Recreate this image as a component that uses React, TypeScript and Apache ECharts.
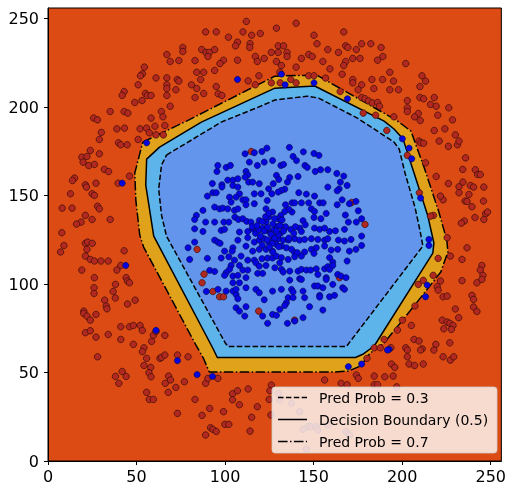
import { useEffect, useRef } from 'react';
import * as echarts from 'echarts';

const xTickValues = [0, 50, 100, 150, 200, 250];
const yTickValues = [0, 50, 100, 150, 200, 250];
const legendLabels = ['Pred Prob = 0.3', 'Decision Boundary (0.5)', 'Pred Prob = 0.7'];

// contour at predicted probability 0.7 (dash-dot, outermost)
const contour07: [number, number][] = [
  [53.5, 180.2], [78.2, 192.1], [128.1, 217.5], [151.7, 218.1], [196.6, 192.7], [205.0, 186.4],
  [212.9, 164.4], [220.7, 140.7], [225.2, 124.9], [225.8, 118.1], [221.8, 106.8], [206.7, 87.6],
  [189.8, 66.7], [182.0, 61.0], [176.4, 53.7], [169.6, 50.8], [161.8, 50.3], [91.1, 50.3],
  [87.7, 58.2], [83.8, 65.0], [54.0, 120.9], [51.8, 127.7], [49.6, 147.5], [49.0, 162.7],
];
// decision boundary 0.5 (solid)
const contour05: [number, number][] = [
  [63.0, 177.4], [86.6, 191.5], [128.1, 210.7], [150.6, 211.9], [189.8, 192.1], [195.4, 187.6],
  [200.5, 181.9], [206.7, 162.7], [214.5, 138.4], [217.9, 123.2], [217.3, 117.5], [184.2, 65.0],
  [178.1, 60.5], [173.6, 58.5], [95.6, 58.5], [93.3, 63.3], [59.7, 127.1], [55.2, 155.9], [55.7, 170.6],
];
// contour at 0.3 (dashed, innermost)
const contour03: [number, number][] = [
  [66.9, 172.9], [97.8, 191.5], [120.3, 200.6], [128.1, 204.0], [146.6, 206.2], [152.8, 205.1],
  [174.7, 193.8], [195.4, 180.2], [198.3, 176.3], [201.6, 162.7], [207.2, 143.5], [210.0, 130.5],
  [211.7, 121.5], [168.5, 64.7], [101.7, 64.7], [100.1, 66.7], [66.9, 127.1], [64.1, 139.0],
  [62.5, 153.7], [64.1, 167.2],
];

// class 0 (red) samples
const class0Points: [number, number][] = [
  [112.0, 248.4], [89.0, 242.5], [95.0, 242.5], [110.1, 242.5], [115.0, 240.6], [119.9, 241.6], [101.9, 239.5],
  [107.0, 236.7], [105.9, 234.6], [114.1, 235.9], [113.9, 233.7], [76.1, 233.7], [76.1, 231.4], [86.8, 232.5],
  [89.2, 230.9], [91.1, 230.9], [90.3, 228.6], [94.1, 232.5], [126.1, 230.9], [67.1, 229.7], [117.1, 228.6],
  [122.1, 227.5], [69.0, 225.8], [73.9, 226.3], [83.0, 226.3], [99.1, 226.5], [97.1, 224.6], [107.0, 226.5],
  [118.2, 225.8], [54.4, 222.6], [53.3, 218.8], [52.2, 217.7], [61.0, 216.5], [67.1, 216.5], [73.0, 215.6],
  [73.9, 214.7], [84.0, 219.7], [87.9, 219.7], [94.1, 220.7], [86.2, 215.6], [119.1, 217.7], [113.0, 214.8],
  [117.1, 212.6], [126.1, 213.7], [50.9, 212.6], [67.1, 212.6], [67.1, 210.5], [72.2, 209.8], [81.0, 212.6],
  [84.0, 210.5], [95.0, 211.6], [43.0, 208.8], [41.9, 206.6], [55.0, 207.7], [56.1, 206.6], [58.2, 206.6],
  [67.1, 206.6], [83.0, 205.4], [87.9, 207.7], [96.1, 207.5], [98.2, 206.6], [49.0, 202.6], [53.1, 203.7],
  [69.0, 200.5], [35.1, 197.5], [43.0, 197.5], [45.1, 196.6], [64.0, 197.5], [25.8, 193.8], [27.9, 192.8],
  [58.2, 193.8], [64.9, 194.5],
  [140.1, 247.4], [129.0, 244.6], [150.2, 240.6], [167.0, 242.5], [130.0, 234.6], [133.0, 234.6], [151.9, 235.8],
  [168.1, 234.6], [169.3, 233.7], [177.1, 235.8], [182.3, 235.8], [158.0, 232.5], [164.0, 230.9], [174.1, 232.5],
  [188.1, 233.7], [130.0, 230.9], [135.0, 230.9], [135.0, 228.6], [147.2, 229.7], [149.2, 228.6], [143.1, 227.5],
  [172.1, 227.5], [176.2, 227.5], [168.1, 225.8], [155.2, 225.8], [186.1, 226.5], [189.1, 228.6], [129.0, 225.8],
  [131.8, 223.5], [140.1, 222.6], [167.0, 223.5], [159.2, 221.6], [202.0, 224.6], [193.0, 219.7], [211.2, 217.7],
  [213.2, 214.7], [166.1, 218.6], [172.1, 215.6], [172.1, 213.7], [177.1, 212.6], [182.9, 215.6], [188.9, 215.6],
  [195.1, 214.7], [184.0, 210.5], [193.0, 209.8], [197.9, 209.8], [210.0, 211.6], [175.1, 209.8], [165.0, 208.8],
  [177.1, 205.4], [179.0, 204.7], [181.0, 203.5], [183.1, 202.4], [186.1, 202.6], [187.2, 200.5], [202.9, 203.7],
  [210.0, 205.4], [212.1, 204.7], [218.1, 205.4], [216.0, 201.5], [219.2, 200.5], [226.3, 199.6], [202.9, 199.6],
  [202.9, 197.5], [209.1, 196.4], [207.0, 194.5], [220.1, 195.4], [195.3, 194.5], [185.0, 195.4], [178.0, 196.6],
  [210.2, 192.4], [228.4, 192.8], [131.1, 213.7], [137.1, 215.6], [140.1, 213.7], [147.2, 217.7], [150.2, 217.7],
  [156.7, 216.4], [130.9, 219.7],
  [218.1, 186.8], [224.1, 187.7], [230.0, 184.3], [209.5, 180.8], [210.6, 179.8], [212.1, 179.6], [220.9, 180.8],
  [226.1, 177.8], [231.2, 178.7], [232.1, 180.8], [213.2, 168.5], [235.8, 171.3], [234.2, 164.8], [241.3, 164.6],
  [242.6, 161.9], [244.1, 161.9], [246.1, 154.8], [219.2, 160.8], [226.1, 156.8], [232.1, 155.0], [234.3, 157.6],
  [238.5, 155.7], [240.3, 154.8], [232.1, 151.6], [237.7, 150.6], [235.5, 146.9], [236.6, 146.7], [239.4, 143.7],
  [245.9, 146.9], [247.1, 139.7], [248.2, 140.7], [241.1, 137.6], [246.1, 136.5], [235.1, 135.6], [233.4, 134.4],
  [209.7, 151.6], [223.1, 147.6], [221.6, 149.7], [217.7, 138.8], [216.0, 138.4], [202.9, 172.7], [191.3, 186.8],
  [171.5, 146.1], [179.0, 133.7],
  [38.9, 187.7], [43.2, 188.1], [52.0, 187.7], [55.7, 188.1], [60.4, 189.2], [66.0, 189.6], [30.1, 185.7],
  [29.0, 181.7], [39.8, 179.8], [41.1, 178.7], [44.7, 178.7], [50.9, 181.7], [57.2, 185.5], [61.0, 184.3],
  [65.1, 184.3], [23.9, 175.5], [29.0, 173.6], [19.1, 171.7], [22.0, 172.1], [19.8, 168.9], [23.0, 167.0],
  [26.2, 167.6], [31.8, 164.8], [34.2, 163.6], [15.0, 159.9], [13.8, 158.5], [21.1, 156.1], [21.7, 154.8],
  [27.1, 157.0], [39.6, 157.0], [46.0, 161.0], [12.7, 151.0], [24.9, 151.0], [26.2, 150.1], [28.0, 144.0],
  [29.0, 142.5], [8.0, 142.9], [13.6, 142.9], [21.1, 138.8], [24.9, 136.5], [18.7, 135.0], [16.1, 133.9],
  [35.1, 136.5], [7.8, 129.0], [114.8, 174.9],
  [7.1, 118.1], [9.0, 121.8], [21.1, 123.0], [22.4, 123.7], [25.0, 123.0], [22.0, 119.6], [21.1, 115.8],
  [23.9, 113.9], [26.2, 113.0], [29.9, 113.0], [34.0, 113.0], [43.0, 118.8], [41.1, 110.5], [38.9, 107.9],
  [19.1, 107.9], [26.2, 103.6], [44.1, 103.6], [44.9, 101.7], [46.0, 100.7], [38.1, 99.8], [26.0, 97.9],
  [26.0, 94.7], [36.8, 95.8], [38.0, 92.1], [32.0, 90.9], [32.9, 87.6], [33.3, 86.0], [44.9, 88.7],
  [49.2, 90.9], [20.2, 84.7], [20.2, 83.4], [22.0, 81.9], [23.9, 79.6], [27.1, 82.8], [41.1, 75.9],
  [46.0, 75.9], [48.2, 76.6], [52.0, 76.6], [53.3, 73.8], [59.5, 71.0], [61.0, 73.2], [58.5, 67.6],
  [66.0, 71.0], [21.1, 72.5], [23.9, 73.6], [27.1, 70.0], [34.0, 71.5], [41.1, 68.7], [48.2, 65.9],
  [54.2, 64.0], [84.2, 119.6], [88.1, 105.6], [87.0, 100.7], [93.1, 95.8], [96.9, 92.8], [99.1, 92.8],
  [119.0, 84.7],
  [164.6, 103.6], [139.3, 79.6], [225.4, 126.2], [236.6, 120.5], [220.3, 114.5], [227.2, 115.8], [233.8, 113.9],
  [245.0, 110.5], [244.1, 107.9], [245.6, 104.9], [245.0, 102.6], [242.2, 100.7], [233.8, 101.9], [221.6, 101.7],
  [217.5, 104.9], [219.8, 98.5], [220.3, 96.6], [209.1, 99.8], [211.9, 102.1], [223.1, 92.8], [225.4, 93.2],
  [230.0, 85.9], [231.9, 81.0], [222.6, 79.6], [225.4, 78.5], [226.9, 77.8], [228.7, 76.6], [227.8, 74.4],
  [223.5, 74.7], [239.4, 93.6], [240.3, 91.3], [240.3, 87.0], [242.2, 84.5], [207.2, 87.6], [200.1, 79.6],
  [205.2, 76.6], [197.3, 74.0], [189.8, 68.7], [184.2, 64.0], [187.6, 64.0], [193.6, 64.0], [202.0, 64.0],
  [206.7, 68.7], [209.5, 67.8], [211.3, 63.4], [219.0, 65.9], [226.9, 66.8],
  [28.0, 58.9], [53.3, 61.8], [55.7, 58.0], [63.2, 58.0], [64.1, 58.6], [66.0, 59.9], [73.1, 59.9],
  [79.1, 58.9], [58.0, 52.9], [54.2, 54.0], [57.0, 49.9], [58.2, 47.6], [41.9, 50.6], [38.1, 47.8],
  [44.1, 47.8], [40.0, 43.9], [68.1, 48.0], [69.2, 45.8], [66.2, 43.9], [72.2, 41.6], [77.0, 44.8],
  [55.7, 38.8], [67.9, 38.8], [57.2, 34.8], [59.5, 34.8], [83.0, 34.8], [73.1, 26.9], [87.0, 25.8],
  [91.3, 29.7], [99.1, 27.9], [89.0, 43.9], [90.3, 46.7], [95.9, 46.7], [104.2, 38.0], [107.0, 39.7],
  [104.2, 34.6], [113.0, 40.7], [108.1, 31.8], [118.2, 30.7], [115.0, 24.7], [99.9, 20.7], [102.1, 20.7],
  [91.8, 18.8], [93.1, 17.9], [95.0, 16.7], [89.0, 14.7], [114.1, 16.9], [126.1, 42.9], [125.3, 39.7],
  [124.9, 34.8], [125.9, 26.0],
  [202.9, 62.7], [210.4, 62.7], [217.9, 62.7], [202.9, 58.9], [203.9, 54.8], [207.0, 54.0], [211.9, 54.8],
  [223.1, 58.9], [227.2, 57.0], [229.1, 58.9], [193.9, 54.8], [195.8, 52.9], [180.1, 58.0], [174.1, 48.6],
  [175.2, 46.7], [184.2, 48.0], [190.2, 47.6], [194.9, 48.0], [156.2, 45.8], [165.5, 43.9], [168.9, 43.1],
  [184.2, 43.1], [186.1, 43.1], [196.9, 41.9], [130.0, 38.2], [130.9, 34.5], [137.5, 32.6], [142.1, 27.9],
  [146.8, 19.4], [148.7, 19.4], [151.5, 19.4], [152.4, 17.5], [144.0, 17.9], [145.9, 6.8], [158.0, 20.3],
  [168.3, 16.6], [170.2, 14.7],
];

// class 1 (blue) samples
const class1Points: [number, number][] = [
  [136.3, 177.2], [138.4, 172.1], [140.3, 169.8], [144.2, 174.7], [150.2, 173.8], [153.0, 172.7], [131.5, 167.0],
  [133.0, 167.6], [145.1, 167.0], [146.4, 165.9], [153.9, 164.6], [158.0, 164.6], [150.9, 163.6], [163.1, 162.5],
  [167.0, 161.0], [165.1, 157.6], [168.9, 155.7], [141.2, 160.8], [136.5, 160.2], [135.2, 157.6], [129.0, 161.4],
  [130.3, 159.1], [133.7, 153.6], [131.8, 152.9], [130.0, 152.0], [158.0, 154.8], [164.4, 153.8], [163.3, 152.7],
  [141.6, 151.6], [145.9, 150.8], [150.5, 149.7], [137.8, 145.9], [139.3, 145.9], [143.1, 145.9], [147.2, 145.9],
  [153.4, 145.9], [155.4, 145.9], [163.3, 144.8], [166.1, 147.6], [170.2, 145.4], [173.9, 146.7], [157.1, 139.9],
  [148.7, 142.5], [150.5, 141.0], [154.1, 136.9], [150.2, 137.6], [144.0, 135.8], [145.3, 133.5], [137.8, 140.7],
  [136.0, 142.2], [134.1, 144.8], [133.7, 141.0], [131.5, 138.8], [130.0, 136.9], [130.9, 133.1], [133.3, 131.2],
  [137.1, 130.9], [142.1, 131.6], [143.1, 129.7], [150.5, 131.6], [153.4, 130.9], [156.2, 131.6], [159.0, 129.7],
  [162.3, 130.1], [167.4, 130.9], [167.9, 139.0], [169.6, 135.0], [174.1, 135.0], [177.1, 136.9], [175.2, 141.4],
  [111.3, 173.6], [116.5, 174.2], [120.8, 174.9], [123.6, 176.8], [122.1, 168.9], [126.8, 169.8], [113.7, 168.9],
  [118.2, 167.0], [95.9, 167.0], [100.6, 165.9], [103.0, 167.0], [95.4, 163.6], [111.8, 163.6], [112.8, 161.7],
  [111.3, 160.4], [113.3, 157.6], [115.6, 157.6], [101.5, 158.7], [104.4, 158.7], [107.2, 159.5], [98.2, 156.1],
  [98.2, 154.8], [92.8, 156.8], [104.4, 155.7], [107.2, 154.8], [108.1, 151.0], [119.3, 156.7], [124.6, 153.8],
  [126.4, 151.0], [93.1, 151.6], [95.0, 151.6], [90.0, 149.7], [102.5, 149.1], [103.4, 146.3], [106.2, 149.1],
  [110.0, 147.6], [116.5, 151.0], [120.3, 151.0], [111.8, 147.6], [123.8, 147.2], [127.2, 156.7], [83.8, 138.8],
  [87.5, 141.6], [89.0, 135.0], [94.1, 143.5], [96.9, 142.5], [98.7, 142.9], [101.5, 142.5], [105.3, 141.6],
  [107.2, 142.5], [111.8, 144.8], [116.5, 145.4], [123.1, 142.5], [105.5, 137.8], [107.5, 136.5], [110.0, 136.9],
  [112.2, 135.4], [114.6, 135.0], [119.3, 135.9], [123.1, 135.0], [124.6, 137.8], [126.8, 140.7], [94.1, 135.0],
  [99.3, 135.0], [102.1, 135.0], [82.8, 131.2], [87.5, 129.7], [97.8, 130.3], [99.7, 130.9], [108.1, 129.4],
  [112.8, 129.7], [115.6, 131.2], [121.2, 131.6], [123.1, 130.3], [126.8, 129.4], [82.8, 136.5],
  [82.8, 123.7], [94.1, 124.8], [95.9, 123.7], [97.2, 123.0], [107.2, 124.8], [112.8, 126.2], [116.5, 123.7],
  [119.3, 124.8], [122.1, 125.6], [124.6, 123.7], [126.8, 124.8], [79.1, 120.5], [99.7, 118.6], [104.4, 120.5],
  [104.0, 118.6], [111.8, 121.4], [115.6, 118.6], [119.3, 119.6], [123.1, 119.6], [126.8, 118.6], [80.0, 113.9],
  [90.0, 114.5], [97.8, 114.7], [102.1, 115.4], [105.3, 113.5], [109.0, 115.8], [112.8, 113.5], [116.5, 113.5],
  [117.4, 112.0], [120.8, 114.3], [124.0, 114.7], [126.8, 114.7], [103.4, 110.5], [102.5, 108.3], [100.6, 106.4],
  [91.3, 107.7], [94.1, 107.1], [108.1, 110.5], [110.0, 107.9], [112.8, 107.9], [119.3, 110.1], [123.1, 110.5],
  [99.7, 104.9], [104.4, 104.5], [107.2, 104.9], [118.4, 106.0], [121.2, 106.0], [104.4, 100.7], [108.1, 100.7],
  [111.8, 103.6], [104.4, 96.0], [106.2, 94.1], [107.2, 91.7], [111.8, 97.9], [117.4, 97.0], [119.3, 95.1],
  [89.4, 95.8], [96.0, 97.0], [100.6, 96.0], [106.2, 97.0], [122.1, 91.1], [126.8, 96.0], [111.8, 87.2],
  [106.2, 86.6], [108.1, 84.7], [111.1, 81.9], [121.2, 81.9], [126.8, 82.8], [124.0, 77.8],
  [130.0, 125.6], [132.8, 124.8], [135.6, 125.2], [139.3, 125.6], [142.1, 124.8], [144.9, 125.2], [148.7, 125.6],
  [152.4, 125.2], [156.2, 124.8], [158.0, 125.6], [164.0, 124.8], [167.4, 124.3], [171.1, 125.2], [177.1, 127.1],
  [129.0, 122.4], [131.8, 121.5], [134.6, 120.5], [137.5, 119.6], [139.3, 117.7], [140.8, 117.7], [144.9, 118.1],
  [148.7, 119.6], [151.5, 120.5], [156.2, 121.5], [159.9, 119.2], [163.6, 119.6], [170.2, 118.6], [173.9, 119.6],
  [177.1, 121.8], [129.0, 115.8], [131.8, 114.9], [130.9, 112.0], [135.6, 113.9], [139.3, 115.4], [143.1, 115.8],
  [150.2, 117.3], [159.0, 114.9], [160.8, 112.4], [168.9, 113.0], [128.1, 109.2], [131.8, 108.3], [132.8, 106.8],
  [136.5, 107.3], [141.2, 107.3], [143.1, 108.3], [145.9, 107.9], [148.3, 107.9], [151.5, 108.6], [156.2, 108.6],
  [158.0, 109.8], [159.0, 108.3], [160.8, 110.5], [163.6, 105.4], [165.5, 104.5], [168.3, 103.6], [157.1, 103.6],
  [157.1, 102.6], [152.4, 105.4], [136.5, 102.2], [142.1, 103.0], [143.1, 102.6], [150.5, 98.9], [152.4, 98.9],
  [155.2, 97.9], [160.8, 99.8], [166.4, 97.9], [167.4, 97.0], [131.8, 97.0], [137.5, 97.0], [138.4, 95.5],
  [144.0, 96.0], [135.6, 92.3], [138.4, 92.3], [144.9, 92.3], [153.4, 93.6], [153.4, 92.6], [159.0, 92.8],
  [161.8, 93.6], [134.6, 89.4], [133.7, 87.9], [130.9, 85.7], [147.7, 87.2], [155.2, 85.3], [129.0, 82.3],
  [144.0, 81.0], [139.3, 79.1], [135.2, 77.8],
  [115.4, 132.4], [117.2, 128.7], [119.1, 130.6], [121.0, 135.3], [122.9, 138.1], [124.7, 140.0], [125.7, 128.7],
  [127.5, 130.6], [129.4, 132.4], [131.3, 128.7], [132.2, 136.2], [134.1, 132.4], [123.8, 124.9], [126.6, 123.0],
  [130.3, 121.1], [135.9, 124.9], [138.8, 128.7], [139.7, 132.4], [126.0, 128.0], [124.0, 132.0], [128.0, 126.0],
  [130.0, 128.0], [127.0, 134.0], [122.0, 130.0], [133.0, 130.0], [120.0, 127.0], [128.0, 137.0], [125.0, 121.0],
  [131.0, 133.0], [118.0, 133.0], [129.0, 130.0], [136.0, 126.0], [121.0, 122.0], [127.0, 118.0],
  [107.0, 215.6], [131.8, 218.6], [133.9, 212.6], [150.2, 213.7], [169.1, 204.7], [203.9, 176.8], [205.4, 170.8],
  [210.4, 148.6], [200.1, 182.1], [55.7, 179.8], [41.9, 157.0], [43.9, 110.5], [61.0, 73.8], [215.1, 125.2],
  [215.1, 121.8], [214.1, 99.4], [213.2, 92.8], [192.6, 63.1], [73.1, 56.7], [84.2, 48.8], [92.9, 47.8],
  [169.6, 53.3], [177.1, 54.8], [191.7, 62.7],
];

const FONT = '"DejaVu Sans", "Liberation Sans", sans-serif';
const BG = '#DC4B13';

function fillSeries(poly: [number, number][], color: string, z: number) {
  return {
    type: 'custom',
    data: poly,
    z,
    silent: true,
    clip: true,
    encode: { x: 0, y: 1 },
    renderItem: (params: any, api: any) => {
      if (params.dataIndex !== 0) return null;
      const pts = poly.map((p) => api.coord(p));
      return { type: 'polygon', shape: { points: pts }, style: { fill: color } };
    },
  };
}

function lineSeries(name: string, poly: [number, number][], dash: any) {
  return {
    type: 'line',
    name,
    data: [...poly, poly[0]],
    z: 5,
    silent: true,
    symbol: 'none',
    smooth: false,
    clip: true,
    lineStyle: { color: '#000', width: 1.5, type: dash },
  };
}

const dashPattern = [5.5, 2.4];
const dashDotPattern = [9.6, 2.4, 1.5, 2.4];

export default function App() {
  const ref = useRef<HTMLDivElement>(null);
  useEffect(() => {
    if (!ref.current) return;
    const chart = echarts.init(ref.current, undefined, { renderer: 'svg' });
    const axisCommon = {
      type: 'value',
      min: 0,
      max: 256,
      splitLine: { show: false },
      axisLine: { show: true, onZero: false, lineStyle: { color: '#000', width: 1 } },
      axisTick: { show: true, length: 4, customValues: xTickValues, lineStyle: { color: '#000', width: 1 } },
    };
    const legendRows = [
      { label: legendLabels[0], dash: dashPattern },
      { label: legendLabels[1], dash: null },
      { label: legendLabels[2], dash: dashDotPattern },
    ];
    const legendChildren: any[] = [
      {
        type: 'rect',
        shape: { x: 0, y: 0, width: 225, height: 66, r: 3 },
        style: { fill: 'rgba(255,255,255,0.8)', stroke: 'rgba(204,204,204,0.8)', lineWidth: 1 },
        z: 100,
      },
    ];
    legendRows.forEach((row, i) => {
      const cy = 10.5 + i * 22;
      legendChildren.push({
        type: 'line',
        shape: { x1: 6, y1: cy, x2: 35, y2: cy },
        style: { stroke: '#000', lineWidth: 1.5, lineDash: row.dash || undefined },
        z: 101,
      });
      legendChildren.push({
        type: 'text',
        x: 47,
        y: cy,
        style: { text: row.label, fill: '#000', fontSize: 14, fontFamily: FONT, align: 'left', verticalAlign: 'middle' },
        z: 101,
      });
    });

    chart.setOption({
      animation: false,
      grid: {
        left: 48, right: 5, top: 8, bottom: 26,
        show: true, backgroundColor: BG, borderColor: '#000', borderWidth: 1,
      },
      xAxis: {
        ...axisCommon,
        axisLabel: { customValues: xTickValues, color: '#000', fontSize: 16, fontFamily: FONT, margin: 7 },
      },
      yAxis: {
        ...axisCommon,
        axisTick: { ...axisCommon.axisTick, customValues: yTickValues },
        axisLabel: { customValues: yTickValues, color: '#000', fontSize: 16, fontFamily: FONT, margin: 9 },
      },
      series: [
        fillSeries(contour07, '#E0A21B', 1),
        fillSeries(contour05, '#5DB4EA', 2),
        fillSeries(contour03, '#6495ED', 3),
        lineSeries(legendLabels[0], contour03, dashPattern),
        lineSeries(legendLabels[1], contour05, 'solid'),
        lineSeries(legendLabels[2], contour07, dashDotPattern),
        {
          type: 'scatter', data: class0Points, z: 10, symbolSize: 6.5, silent: true,
          itemStyle: { color: '#B0281F', borderColor: '#3a0c08', borderWidth: 0.7, opacity: 1 },
        },
        {
          type: 'scatter', data: class1Points, z: 11, symbolSize: 6.2, silent: true,
          itemStyle: { color: '#0606E0', borderColor: '#05054a', borderWidth: 0.6, opacity: 1 },
        },
      ],
      graphic: [{ type: 'group', x: 272, y: 387, z: 100, children: legendChildren }],
    });
    return () => chart.dispose();
  }, []);
  return <div ref={ref} style={{ position: 'fixed', left: 0, top: 0, width: 509, height: 487 }} />;
}
